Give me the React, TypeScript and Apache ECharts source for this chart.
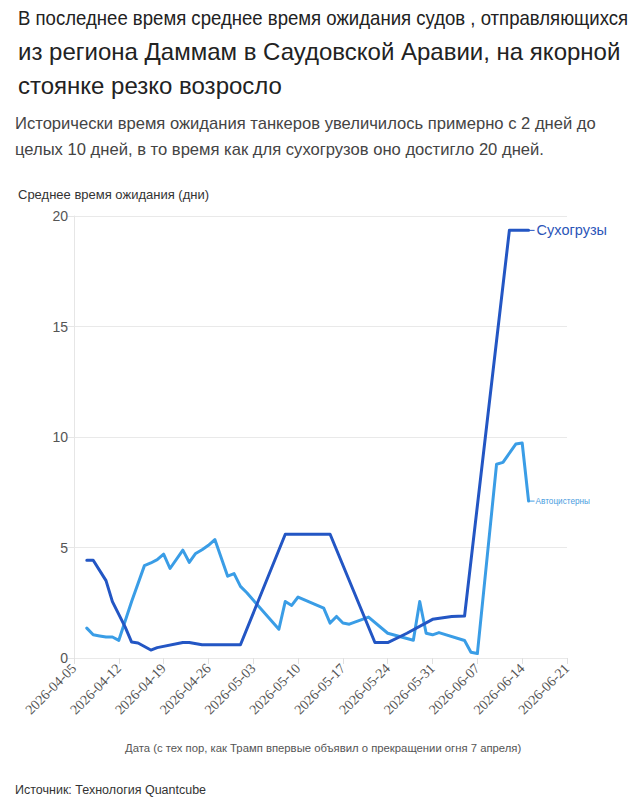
import React, { useEffect, useRef } from "react";
import * as echarts from "echarts";

const BASE_DATE = "2026-04-05";
const X_MAX_DAYS = 77;
const Y_TICKS = [0, 5, 10, 15, 20];

const dryName = "Сухогрузы";
const dryDates = [
  "2026-04-07", "2026-04-08", "2026-04-10", "2026-04-11", "2026-04-13", "2026-04-14",
  "2026-04-15", "2026-04-17", "2026-04-18", "2026-04-22", "2026-04-23", "2026-04-25",
  "2026-05-01", "2026-05-08", "2026-05-15", "2026-05-22", "2026-05-24", "2026-05-27",
  "2026-05-31", "2026-06-03", "2026-06-05", "2026-06-12", "2026-06-15",
];
const dryValues = [
  4.42, 4.42, 3.5, 2.55, 1.4, 0.72,
  0.68, 0.36, 0.47, 0.7, 0.7, 0.6,
  0.6, 5.6, 5.6, 0.7, 0.7, 1.12,
  1.75, 1.88, 1.9, 19.35, 19.35,
];

const tankerName = "Автоцистерны";
const tankerDates = [
  "2026-04-07", "2026-04-08", "2026-04-09", "2026-04-10", "2026-04-11", "2026-04-12",
  "2026-04-14", "2026-04-16", "2026-04-17", "2026-04-18", "2026-04-19", "2026-04-20",
  "2026-04-22", "2026-04-23", "2026-04-24", "2026-04-25", "2026-04-26", "2026-04-27",
  "2026-04-29", "2026-04-30", "2026-05-01", "2026-05-02", "2026-05-07", "2026-05-08",
  "2026-05-09", "2026-05-10", "2026-05-14", "2026-05-15", "2026-05-16", "2026-05-17",
  "2026-05-18", "2026-05-21", "2026-05-24", "2026-05-28", "2026-05-29", "2026-05-30",
  "2026-05-31", "2026-06-01", "2026-06-05", "2026-06-06", "2026-06-07", "2026-06-10",
  "2026-06-11", "2026-06-13", "2026-06-14", "2026-06-15",
];
const tankerValues = [
  1.35, 1.05, 1.0, 0.95, 0.95, 0.8,
  2.56, 4.18, 4.3, 4.45, 4.7, 4.05,
  4.88, 4.33, 4.73, 4.9, 5.1, 5.36,
  3.7, 3.82, 3.24, 2.95, 1.3, 2.56,
  2.38, 2.76, 2.26, 1.58, 1.88, 1.58,
  1.53, 1.85, 1.12, 0.8, 2.56, 1.12,
  1.05, 1.15, 0.79, 0.26, 0.2, 8.77,
  8.85, 9.68, 9.73, 7.1,
];

const titleLines = [
  "В последнее время среднее время ожидания судов , отправляющихся",
  "из региона Даммам в Саудовской Аравии, на якорной",
  "стоянке резко возросло",
];
const subtitleLines = [
  "Исторически время ожидания танкеров увеличилось примерно с 2 дней до",
  "целых 10 дней, в то время как для сухогрузов оно достигло 20 дней.",
];
const yAxisName = "Среднее время ожидания (дни)";
const xAxisName = "Дата (с тех пор, как Трамп впервые объявил о прекращении огня 7 апреля)";
const sourceText = "Источник: Технология Quantcube";

const DAY = 86400000;
const baseMs = Date.parse(BASE_DATE);
const toDay = (d: string) => (Date.parse(d) - baseMs) / DAY;
const fromDay = (v: number) => new Date(baseMs + v * DAY).toISOString().slice(0, 10);

const DARK = "#2356c4";
const LIGHT = "#3a9de6";

export default function App() {
  const ref = useRef<HTMLDivElement>(null);
  useEffect(() => {
    if (!ref.current) return;
    const chart = echarts.init(ref.current, null, { renderer: "svg" });
    const sans = "'Liberation Sans', Arial, sans-serif";
    chart.setOption({
      animation: false,
      backgroundColor: "#ffffff",
      grid: { left: 74, right: 74, top: 216, bottom: 139, containLabel: false },
      graphic: [
        {
          type: "text",
          left: 18,
          top: 7,
          scaleX: 0.885,
          style: { text: titleLines[0], font: `21px ${sans}`, fill: "#222" },
        },
        {
          type: "text",
          left: 18,
          top: 39,
          style: { text: titleLines[1], font: `24px ${sans}`, fill: "#222" },
        },
        {
          type: "text",
          left: 18,
          top: 73,
          style: { text: titleLines[2], font: `24px ${sans}`, fill: "#222" },
        },
        {
          type: "text",
          left: 15,
          top: 115,
          style: { text: subtitleLines[0], font: `16.6px ${sans}`, fill: "#444" },
        },
        {
          type: "text",
          left: 15,
          top: 141,
          style: { text: subtitleLines[1], font: `16.6px ${sans}`, fill: "#444" },
        },
        {
          type: "text",
          left: 18,
          top: 188,
          style: { text: yAxisName, font: `13px ${sans}`, fill: "#333" },
        },
        {
          type: "text",
          left: 125,
          top: 742,
          style: { text: xAxisName, font: `11.3px ${sans}`, fill: "#555" },
        },
        {
          type: "text",
          left: 15,
          top: 783,
          style: { text: sourceText, font: `12.5px ${sans}`, fill: "#333" },
        },
      ],
      xAxis: {
        type: "value",
        min: 0,
        max: X_MAX_DAYS,
        interval: 7,
        axisLine: { show: false },
        axisTick: { show: true, length: 6, lineStyle: { color: "#e0e0e0" } },
        splitLine: { show: false },
        axisLabel: {
          rotate: 45,
          fontSize: 14,
          fontFamily: "'Liberation Serif', 'Times New Roman', serif",
          color: "#555",
          margin: 8,
          formatter: (v: number) => fromDay(v),
        },
      },
      yAxis: {
        type: "value",
        min: Y_TICKS[0],
        max: Y_TICKS[Y_TICKS.length - 1],
        interval: 5,
        axisLine: { show: true, lineStyle: { color: "#e6e6e6" } },
        axisTick: { show: true, length: 7, lineStyle: { color: "#e6e6e6" } },
        splitLine: { show: true, lineStyle: { color: "#e9e9e9" } },
        axisLabel: { fontSize: 14, fontFamily: sans, color: "#555", margin: 6 },
      },
      series: [
        {
          name: tankerName,
          type: "line",
          showSymbol: false,
          symbol: "none",
          lineStyle: { color: LIGHT, width: 3, join: "round", cap: "round" },
          itemStyle: { color: LIGHT },
          data: tankerDates.map((d, i) => [toDay(d), tankerValues[i]]),
          endLabel: {
            show: true,
            formatter: "{l|}{t|" + tankerName + "}",
            distance: 1,
            rich: {
              l: { width: 5, height: 1, backgroundColor: LIGHT },
              t: { fontSize: 8.2, fontFamily: sans, color: "#4a9de0", padding: [0, 0, 0, 1] },
            },
          },
        },
        {
          name: dryName,
          type: "line",
          showSymbol: false,
          symbol: "none",
          lineStyle: { color: DARK, width: 3, join: "round", cap: "round" },
          itemStyle: { color: DARK },
          data: dryDates.map((d, i) => [toDay(d), dryValues[i]]),
          endLabel: {
            show: true,
            formatter: "{l|}{t|" + dryName + "}",
            distance: 1,
            rich: {
              l: { width: 5, height: 1, backgroundColor: DARK },
              t: { fontSize: 14.5, fontFamily: sans, color: "#2b55b8", padding: [0, 0, 0, 2] },
            },
          },
        },
      ],
    });
    return () => chart.dispose();
  }, []);
  return (
    <div
      ref={ref}
      style={{ position: "absolute", left: 0, top: 0, width: 641, height: 797 }}
    />
  );
}
